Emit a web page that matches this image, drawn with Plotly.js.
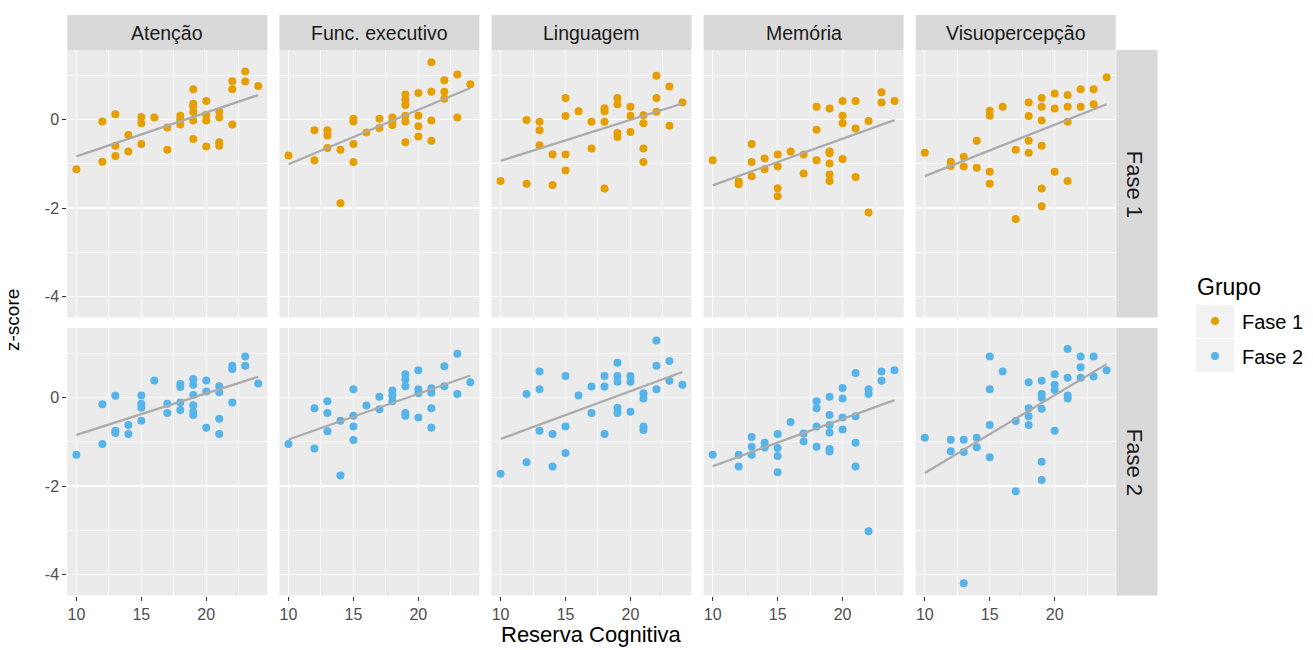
<!DOCTYPE html>
<html><head><meta charset="utf-8">
<script src="https://cdn.plot.ly/plotly-3.0.1.min.js"></script>
<style>html,body{margin:0;padding:0;background:#fff}#chart{width:1313px;height:650px}</style>
</head><body><div id="chart"></div>
<script>
const domainNames = ['Atenção','Func. executivo','Linguagem','Memória','Visuopercepção'];
const groupNames = ['Fase 1','Fase 2'];
const groupColors = ['#E69F00','#56B4E9'];
const xAxisTitle = 'Reserva Cognitiva';
const yAxisTitle = 'z-score';
const legendTitle = 'Grupo';

// Fase 1
const x_aten_f1 = [10,12,12,13,13,13,14,14,15,15,15,16,17,17,18,18,18,19,19,19,19,19,19,20,20,20,20,21,21,21,21,22,22,22,23,23,24];
const y_aten_f1 = [-1.12,-0.04,-0.95,0.12,-0.59,-0.82,-0.35,-0.72,0.06,-0.08,-0.55,0.05,-0.18,-0.68,0.09,0.0,-0.11,0.69,0.36,0.3,0.17,-0.02,-0.44,0.42,0.11,-0.02,-0.61,0.18,0.05,-0.51,-0.59,0.87,0.69,-0.11,1.09,0.86,0.76];
const x_func_f1 = [10,12,12,13,13,13,14,14,15,15,15,15,16,17,17,18,18,18,19,19,19,19,19,19,20,20,20,20,21,21,21,21,22,22,22,23,23,24];
const y_func_f1 = [-0.81,-0.24,-0.92,-0.24,-0.36,-0.64,-0.68,-1.89,0.02,-0.04,-0.55,-0.96,-0.29,0.02,-0.19,0.05,-0.04,-0.12,0.57,0.45,0.33,0.09,-0.04,-0.51,0.6,0.09,-0.15,-0.38,1.3,0.63,-0.02,-0.48,0.89,0.63,0.47,1.02,0.05,0.8];
const x_ling_f1 = [10,12,12,13,13,13,14,14,15,15,15,15,16,17,17,18,18,18,18,19,19,19,19,20,20,20,21,21,21,21,22,22,22,23,23,24];
const y_ling_f1 = [-1.39,-0.01,-1.45,-0.05,-0.24,-0.58,-0.79,-1.48,0.49,0.08,-0.79,-1.15,0.19,-0.05,-0.65,0.26,0.19,-0.05,-1.56,0.49,0.35,-0.3,-0.39,0.29,0.09,-0.28,0.1,-0.08,-0.65,-0.96,0.99,0.49,0.18,0.75,-0.14,0.39];
const x_memo_f1 = [10,12,12,13,13,13,14,14,15,15,15,15,16,17,17,18,18,18,19,19,19,19,19,19,20,20,20,20,21,21,21,22,22,23,23,24];
const y_memo_f1 = [-0.92,-1.4,-1.46,-0.55,-0.96,-1.28,-0.88,-1.12,-0.79,-1.06,-1.55,-1.73,-0.72,-0.79,-1.22,0.29,-0.23,-0.92,0.25,-0.72,-0.76,-0.99,-1.24,-1.39,0.42,0.09,-0.08,-0.89,0.42,-0.2,-1.3,-0.03,-2.1,0.62,0.39,0.42];
const x_visu_f1 = [10,12,12,13,13,14,14,15,15,15,15,16,17,17,18,18,18,18,19,19,19,19,19,19,20,20,20,21,21,21,21,22,22,23,23,24];
const y_visu_f1 = [-0.75,-0.95,-1.05,-0.84,-1.06,-0.48,-1.09,0.2,0.09,-1.18,-1.45,0.29,-0.68,-2.25,0.39,0.08,-0.48,-0.75,0.49,0.29,-0.02,-0.59,-1.56,-1.96,0.59,0.25,-1.18,0.56,0.29,-0.05,-1.39,0.69,0.29,0.69,0.35,0.96];
// Fase 2
const x_aten_f2 = [10,12,12,13,13,13,14,14,15,15,15,15,16,17,17,18,18,18,18,19,19,19,19,19,19,20,20,20,21,21,21,21,22,22,22,23,23,24];
const y_aten_f2 = [-1.29,-0.15,-1.05,0.04,-0.75,-0.8,-0.62,-0.82,0.05,-0.14,-0.23,-0.52,0.39,-0.14,-0.35,0.31,0.24,-0.11,-0.28,0.42,0.29,0.06,-0.17,-0.32,-0.39,0.39,0.14,-0.68,0.26,0.12,-0.48,-0.82,0.72,0.65,-0.11,0.93,0.72,0.32];
const x_func_f2 = [10,12,12,13,13,13,14,14,15,15,15,15,16,17,17,18,18,18,19,19,19,19,19,20,20,20,20,21,21,21,21,22,22,23,23,24];
const y_func_f2 = [-1.05,-0.24,-1.15,-0.08,-0.35,-0.76,-0.52,-1.76,0.19,-0.41,-0.65,-0.96,-0.18,0.02,-0.26,0.16,0.05,-0.08,0.53,0.41,0.26,-0.35,-0.41,0.62,0.19,0.1,-0.45,0.21,0.11,-0.24,-0.68,0.71,0.26,0.99,0.08,0.35];
const x_ling_f2 = [10,12,12,13,13,13,14,14,15,15,15,16,17,17,18,18,18,19,19,19,19,19,20,20,20,21,21,21,21,22,22,22,23,23,24];
const y_ling_f2 = [-1.72,0.08,-1.46,0.59,0.19,-0.75,-0.82,-1.56,0.49,-0.65,-1.25,0.05,0.25,-0.35,0.49,0.25,-0.82,0.79,0.49,0.36,-0.23,-0.35,0.49,0.36,-0.32,0.1,-0.02,-0.65,-0.73,1.29,0.72,0.19,0.83,0.38,0.29];
const x_memo_f2 = [10,12,12,13,13,13,14,14,15,15,15,15,16,17,17,18,18,18,18,19,19,19,19,19,19,20,20,20,20,21,21,21,21,22,22,22,23,23,24];
const y_memo_f2 = [-1.29,-1.29,-1.56,-0.89,-1.11,-1.29,-1.02,-1.13,-0.82,-1.14,-1.32,-1.69,-0.55,-0.81,-0.99,-0.08,-0.24,-0.65,-1.11,0.02,-0.39,-0.62,-0.79,-1.16,-1.22,0.22,-0.02,-0.45,-0.72,0.56,-0.42,-1.02,-1.56,0.19,0.08,-3.02,0.59,0.38,0.62];
const x_visu_f2 = [10,12,12,13,13,13,14,14,15,15,15,15,16,17,17,18,18,18,18,19,19,19,19,19,19,20,20,20,20,21,21,21,21,22,22,22,23,23,24];
const y_visu_f2 = [-0.91,-0.95,-1.21,-0.95,-1.23,-4.2,-0.91,-1.12,0.93,0.19,-0.62,-1.35,0.59,-0.53,-2.12,0.35,-0.24,-0.42,-0.62,0.38,0.08,0.0,-0.25,-1.45,-1.86,0.53,0.29,0.17,-0.75,1.1,0.45,0.05,-0.02,0.93,0.69,0.45,0.93,0.48,0.62];

const xTickVals = [10,15,20];
const yTickVals = [-4,-2,0];

const panels = [
  [[x_aten_f1,y_aten_f1],[x_func_f1,y_func_f1],[x_ling_f1,y_ling_f1],[x_memo_f1,y_memo_f1],[x_visu_f1,y_visu_f1]],
  [[x_aten_f2,y_aten_f2],[x_func_f2,y_func_f2],[x_ling_f2,y_ling_f2],[x_memo_f2,y_memo_f2],[x_visu_f2,y_visu_f2]]
];

const W = 1313, H = 650;
const colLeft0 = 67.3, colStep = 212.1, panelW = 200;
const rowTops = [50, 328], panelH = 267.5;
const fx = p => p / W, fy = p => 1 - p / H;

function lm(xs, ys) {
  const n = xs.length;
  const mx = xs.reduce((a,b)=>a+b,0)/n, my = ys.reduce((a,b)=>a+b,0)/n;
  let sxy=0, sxx=0;
  for (let i=0;i<n;i++){ sxy += (xs[i]-mx)*(ys[i]-my); sxx += (xs[i]-mx)**2; }
  const b = sxy/sxx, a = my - b*mx;
  return {a, b};
}

const traces = [];
const layout = {
  width: W, height: H,
  margin: {l:0, r:0, t:0, b:0},
  paper_bgcolor: '#FFFFFF',
  plot_bgcolor: '#EBEBEB',
  font: {family: 'Liberation Sans, Arial, sans-serif', color: '#000'},
  showlegend: true,
  legend: {
    x: fx(1188), y: fy(301.5), xanchor: 'left', yanchor: 'top',
    font: {size: 20, color: '#000'},
    bgcolor: 'rgba(0,0,0,0)', itemwidth: 44, tracegroupgap: 6
  },
  shapes: [], annotations: []
};

for (let r=0; r<2; r++) {
  for (let c=0; c<5; c++) {
    const k = r*5 + c + 1;
    const xs = panels[r][c][0], ys = panels[r][c][1];
    const xa = 'x' + (k===1?'':k), ya = 'y' + (k===1?'':k);
    const L = colLeft0 + colStep*c, T = rowTops[r];
    traces.push({
      type: 'scatter', mode: 'markers', x: xs, y: ys, xaxis: xa, yaxis: ya,
      name: groupNames[r], legendgroup: groupNames[r], showlegend: c===0,
      marker: {color: groupColors[r], size: 8, line: {width: 0}},
      hoverinfo: 'skip'
    });
    const fit = lm(xs, ys);
    const xmin = Math.min(...xs), xmax = Math.max(...xs);
    traces.push({
      type: 'scatter', mode: 'lines', x: [xmin, xmax], y: [fit.a + fit.b*xmin, fit.a + fit.b*xmax],
      xaxis: xa, yaxis: ya, showlegend: false, hoverinfo: 'skip',
      line: {color: '#ABABAB', width: 2.3}
    });
    layout['xaxis' + (k===1?'':k)] = {
      domain: [fx(L), fx(L+panelW)], anchor: ya, range: [9.3, 24.7],
      tickmode: 'array', tickvals: xTickVals, ticktext: xTickVals.map(String),
      showgrid: true, gridcolor: '#FFFFFF', gridwidth: 1.4, zeroline: false, showline: false,
      ticks: r===1 ? 'outside' : '', ticklen: 4, tickwidth: 1.1, tickcolor: '#333333',
      showticklabels: r===1, tickfont: {size: 16, color: '#4D4D4D'},
      minor: {tickmode: 'linear', tick0: 7.5, dtick: 5, showgrid: true, gridcolor: '#FFFFFF', gridwidth: 0.7, ticks: ''},
      fixedrange: true
    };
    layout['yaxis' + (k===1?'':k)] = {
      domain: [fy(T+panelH), fy(T)], anchor: xa, range: [-4.475, 1.575],
      tickmode: 'array', tickvals: yTickVals, ticktext: yTickVals.map(String),
      showgrid: true, gridcolor: '#FFFFFF', gridwidth: 1.4, zeroline: false, showline: false,
      ticks: c===0 ? 'outside' : '', ticklen: 4, tickwidth: 1.1, tickcolor: '#333333',
      showticklabels: c===0, tickfont: {size: 16, color: '#4D4D4D'},
      minor: {tickmode: 'linear', tick0: -5, dtick: 2, showgrid: true, gridcolor: '#FFFFFF', gridwidth: 0.7, ticks: ''},
      fixedrange: true
    };
    if (r===0) {
      layout.shapes.push({type:'rect', xref:'paper', yref:'paper', x0: fx(L), x1: fx(L+panelW), y0: fy(50), y1: fy(15), fillcolor:'#D9D9D9', line:{width:0}, layer:'below'});
      layout.annotations.push({xref:'paper', yref:'paper', x: fx(L+panelW/2), y: fy(33), text: domainNames[c], showarrow:false, xanchor:'center', yanchor:'middle', font:{size:19.5, color:'#1A1A1A'}});
    }
  }
  const T = rowTops[r];
  layout.shapes.push({type:'rect', xref:'paper', yref:'paper', x0: fx(1116.3), x1: fx(1157.5), y0: fy(T+panelH), y1: fy(T), fillcolor:'#D9D9D9', line:{width:0}, layer:'below'});
  layout.annotations.push({xref:'paper', yref:'paper', x: fx(1134), y: fy(T+panelH/2), text: groupNames[r], textangle: 90, showarrow:false, xanchor:'center', yanchor:'middle', font:{size:22, color:'#1A1A1A'}});
}

// legend key backgrounds
layout.shapes.push({type:'rect', xref:'paper', yref:'paper', x0: fx(1196), x1: fx(1234), y0: fy(337.5), y1: fy(305), fillcolor:'#F2F2F2', line:{width:0}, layer:'below'});
layout.shapes.push({type:'rect', xref:'paper', yref:'paper', x0: fx(1196), x1: fx(1234), y0: fy(372), y1: fy(339), fillcolor:'#F2F2F2', line:{width:0}, layer:'below'});
layout.annotations.push({xref:'paper', yref:'paper', x: fx(1195), y: fy(287), text: legendTitle, showarrow:false, xanchor:'left', yanchor:'middle', font:{size:23, color:'#000'}});

layout.annotations.push({xref:'paper', yref:'paper', x: fx(591.5), y: fy(634), text: xAxisTitle, showarrow:false, xanchor:'center', yanchor:'middle', font:{size:22, color:'#000'}});
layout.annotations.push({xref:'paper', yref:'paper', x: fx(12), y: fy(320), text: yAxisTitle, textangle: -90, showarrow:false, xanchor:'center', yanchor:'middle', font:{size:19, color:'#000'}});

Plotly.newPlot('chart', traces, layout, {displayModeBar: false, staticPlot: true});
</script>
</body></html>
